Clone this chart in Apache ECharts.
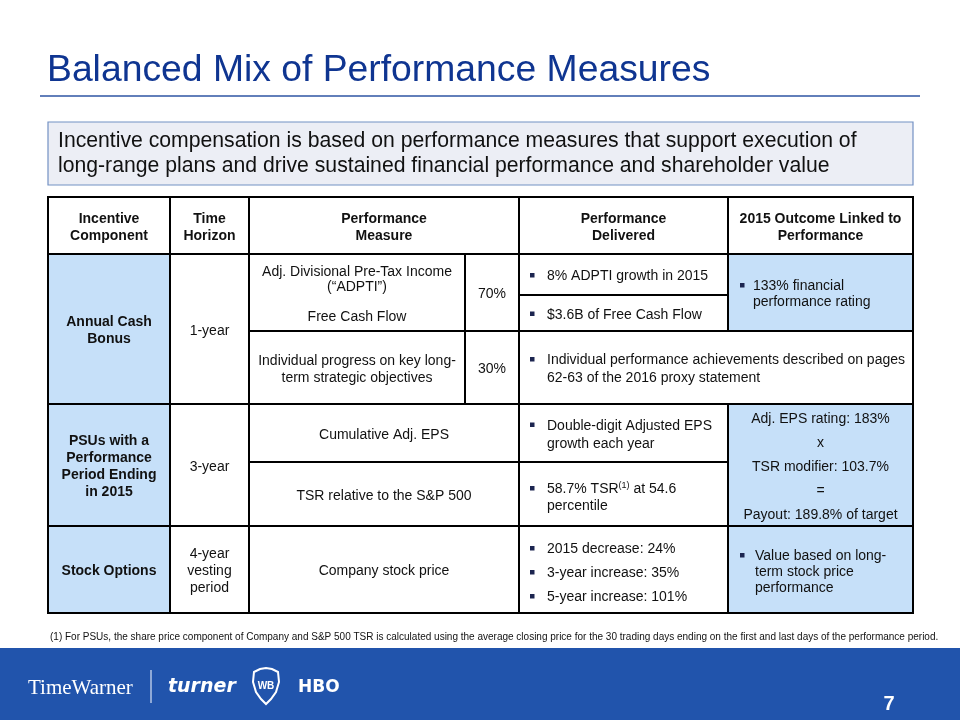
<!DOCTYPE html>
<html><head><meta charset="utf-8">
<script src="https://cdn.jsdelivr.net/npm/echarts@6/dist/echarts.min.js"></script>
<style>html,body{margin:0;padding:0;background:#fff}#c{width:960px;height:720px}</style>
</head><body><div id="c"></div>
<script>
// ---------- content ----------
const title = "Balanced Mix of Performance Measures";
const calloutLines = [
  "Incentive compensation is based on performance measures that support execution of",
  "long-range plans and drive sustained financial performance and shareholder value"
];
const headers = ["Incentive\nComponent", "Time\nHorizon", "Performance\nMeasure", "Performance\nDelivered", "2015 Outcome Linked to\nPerformance"];
const components = ["Annual Cash\nBonus", "PSUs with a\nPerformance\nPeriod Ending\nin 2015", "Stock Options"];
const horizons = ["1-year", "3-year", "4-year\nvesting\nperiod"];
const measures = [
  "Adj. Divisional Pre-Tax Income\n(\u201CADPTI\u201D)\n\nFree Cash Flow",
  "Individual progress on key long-\nterm strategic objectives",
  "Cumulative Adj. EPS",
  "TSR relative to the S&P 500",
  "Company stock price"
];
const weights = ["70%", "30%"];
const delivered = [
  ["8% ADPTI growth in 2015"],
  ["$3.6B of Free Cash Flow"],
  ["Individual performance achievements described on pages\n62-63 of the 2016 proxy statement"],
  ["Double-digit Adjusted EPS\ngrowth each year"],
  ["58.7% TSR{sup|(1)} at 54.6\npercentile"],
  ["2015 decrease: 24%", "3-year increase: 35%", "5-year increase: 101%"]
];
const outcomes = [
  ["133% financial\nperformance rating"],
  "Adj. EPS rating: 183%\nx\nTSR modifier: 103.7%\n=\nPayout: 189.8% of target",
  ["Value based on long-\nterm stock price\nperformance"]
];
const footnote = "(1) For PSUs, the share price component of Company and S&P 500 TSR is calculated using the average closing price for the 30 trading days ending on the first and last days of the performance period.";
const pageNumber = "7";

// ---------- layout (table units) ----------
const colEdges = [0, 122, 201, 417, 471, 680, 865];
const rowEdges = [0, 57, 98, 134, 207, 265, 329, 416];
const BLUE = '#C6E0F9';
const FONT = '"Liberation Sans", Arial, Helvetica, sans-serif';

const cells = [
  {c:[0,1], r:[0,1], kind:'head', text:headers[0]},
  {c:[1,2], r:[0,1], kind:'head', text:headers[1]},
  {c:[2,4], r:[0,1], kind:'head', text:headers[2]},
  {c:[4,5], r:[0,1], kind:'head', text:headers[3]},
  {c:[5,6], r:[0,1], kind:'head', text:headers[4]},
  {c:[0,1], r:[1,4], kind:'head', fill:BLUE, text:components[0]},
  {c:[1,2], r:[1,4], kind:'plain', text:horizons[0]},
  {c:[2,3], r:[1,3], kind:'plain', text:measures[0], lh:15},
  {c:[3,4], r:[1,3], kind:'plain', text:weights[0]},
  {c:[4,5], r:[1,2], kind:'bullets', items:delivered[0], lh:17, bx:11, tx:28},
  {c:[4,5], r:[2,3], kind:'bullets', items:delivered[1], lh:17, bx:11, tx:28},
  {c:[5,6], r:[1,3], kind:'bullets', fill:BLUE, items:outcomes[0], lh:16, bx:12, tx:25},
  {c:[2,3], r:[3,4], kind:'plain', text:measures[1], lh:17},
  {c:[3,4], r:[3,4], kind:'plain', text:weights[1]},
  {c:[4,6], r:[3,4], kind:'bullets', items:delivered[2], lh:18, bx:11, tx:28},
  {c:[0,1], r:[4,6], kind:'head', fill:BLUE, text:components[1]},
  {c:[1,2], r:[4,6], kind:'plain', text:horizons[1]},
  {c:[2,4], r:[4,5], kind:'plain', text:measures[2]},
  {c:[2,4], r:[5,6], kind:'plain', text:measures[3]},
  {c:[4,5], r:[4,5], kind:'bullets', items:delivered[3], lh:18, bx:11, tx:28},
  {c:[4,5], r:[5,6], kind:'bullets', items:delivered[4], lh:17, bx:11, tx:28, dy:2},
  {c:[5,6], r:[4,6], kind:'plain', fill:BLUE, text:outcomes[1], lh:24},
  {c:[0,1], r:[6,7], kind:'head', fill:BLUE, text:components[2]},
  {c:[1,2], r:[6,7], kind:'plain', text:horizons[2], lh:17},
  {c:[2,4], r:[6,7], kind:'plain', text:measures[4]},
  {c:[4,5], r:[6,7], kind:'bullets', items:delivered[5], lh:24, bx:11, tx:28, dy:2},
  {c:[5,6], r:[6,7], kind:'bullets', fill:BLUE, items:outcomes[2], lh:16, bx:12, tx:27, dy:1}
];

const cellData = cells.map(c => [colEdges[c.c[0]], colEdges[c.c[1]], rowEdges[c.r[0]], rowEdges[c.r[1]]]);

const rich = {
  n: {fontSize: 14, fontFamily: FONT, color: '#111', lineHeight: 17},
  sup: {fontSize: 9, fontFamily: FONT, color: '#111', lineHeight: 17, padding: [0, 0, 8, 0]}
};

function renderItem(params, api) {
  const cell = cells[params.dataIndex];
  const p0 = api.coord([api.value(0), api.value(2)]);
  const p1 = api.coord([api.value(1), api.value(3)]);
  const x = p0[0], y = p0[1], w = p1[0] - p0[0], h = p1[1] - p0[1];
  const cx = x + w / 2, cy = y + h / 2 + 2 + (cell.dy || 0);
  const children = [{
    type: 'rect', shape: {x, y, width: w, height: h},
    style: {fill: cell.fill || '#fff', stroke: '#000', lineWidth: 2}
  }];
  if (cell.kind === 'head' || cell.kind === 'plain') {
    const head = cell.kind === 'head';
    children.push({
      type: 'text', x: cx, y: cy,
      style: {text: cell.text, fontFamily: FONT, fontSize: 14,
        fontWeight: head ? 'bold' : 'normal',
        fill: '#111', align: 'center', verticalAlign: 'middle', lineHeight: cell.lh || 17}
    });
  } else {
    const lh = cell.lh;
    let total = 0;
    cell.items.forEach(it => total += it.split('\n').length);
    let ly = cy - total * lh / 2;
    cell.items.forEach(it => {
      const n = it.split('\n').length;
      children.push({type: 'rect', shape: {x: x + cell.bx, y: ly + lh / 2 - 3.5, width: 4.5, height: 4.5},
        style: {fill: '#1C2550'}});
      const hasRich = it.indexOf('{sup|') >= 0;
      const txt = hasRich ? it.split('\n').map(l => {
        if (l.indexOf('{sup|') >= 0) return l.replace(/^([^{]*)\{sup\|([^}]*)\}(.*)$/, '{n|$1}{sup|$2}{n|$3}');
        return '{n|' + l + '}';
      }).join('\n') : it;
      const st = {text: txt, fontFamily: FONT, fontSize: 14, fill: '#111',
          align: 'left', verticalAlign: 'top', lineHeight: lh};
      if (hasRich) st.rich = rich;
      children.push({type: 'text', x: x + cell.tx, y: ly, style: st});
      ly += n * lh;
    });
  }
  return {type: 'group', children};
}

const chart = echarts.init(document.getElementById('c'), null, {renderer: 'canvas'});
chart.setOption({
  animation: false,
  backgroundColor: '#fff',
  grid: {left: 48, top: 197, width: 865, height: 416},
  xAxis: {type: 'value', min: 0, max: 865, show: false},
  yAxis: {type: 'value', min: 0, max: 416, inverse: true, show: false},
  series: [{
    type: 'custom', coordinateSystem: 'cartesian2d',
    renderItem, data: cellData, silent: true, clip: false
  }],
  graphic: [
    {type: 'text', x: 47, y: 71, style: {text: title, fontFamily: FONT, fontSize: 37.3, fill: '#0F3591', verticalAlign: 'middle'}},
    {type: 'line', shape: {x1: 40, y1: 96, x2: 920, y2: 96}, style: {stroke: '#2E55A3', lineWidth: 1.5}},
    {type: 'rect', shape: {x: 48, y: 122, width: 865, height: 63}, style: {fill: '#ECEEF5', stroke: '#7391C4', lineWidth: 1.2}},
    {type: 'text', x: 58, y: 141, style: {text: calloutLines[0], fontFamily: FONT, fontSize: 21.2, fill: '#111', verticalAlign: 'middle'}},
    {type: 'text', x: 58, y: 166, style: {text: calloutLines[1], fontFamily: FONT, fontSize: 21.2, fill: '#111', verticalAlign: 'middle'}},
    {type: 'text', x: 50, y: 637, style: {text: footnote, fontFamily: FONT, fontSize: 10, fill: '#111', verticalAlign: 'middle'}},
    {type: 'rect', shape: {x: 0, y: 648, width: 960, height: 72}, style: {fill: '#2154AC'}},
    {type: 'text', x: 28, y: 688, style: {text: 'TimeWarner', fontFamily: '"Liberation Serif", "DejaVu Serif", serif', fontSize: 21, fill: '#fff', verticalAlign: 'middle'}},
    {type: 'line', shape: {x1: 151, y1: 670, x2: 151, y2: 703}, style: {stroke: '#D8E2F4', lineWidth: 1.2}},
    {type: 'text', x: 168, y: 687, style: {text: 'turner', fontFamily: '"DejaVu Sans", sans-serif', fontWeight: 'bold', fontStyle: 'italic', fontSize: 19, fill: '#fff', verticalAlign: 'middle'}},
    {type: 'polygon', shape: {points: [[254,672],[260,669],[266,668],[272,669],[278,672],[279,682],[276,692],[271,699],[266,704],[261,699],[256,692],[253,682]]}, style: {fill: 'none', stroke: '#fff', lineWidth: 2}},
    {type: 'text', x: 266, y: 686, style: {text: 'WB', fontFamily: FONT, fontWeight: 'bold', fontSize: 10, fill: '#fff', align: 'center', verticalAlign: 'middle'}},
    {type: 'text', x: 298, y: 688, style: {text: 'HBO', fontFamily: '"DejaVu Sans", sans-serif', fontWeight: 'bold', fontSize: 17, fill: '#fff', verticalAlign: 'middle'}},
    {type: 'text', x: 889, y: 704, style: {text: pageNumber, fontFamily: FONT, fontWeight: 'bold', fontSize: 20, fill: '#fff', align: 'center', verticalAlign: 'middle'}}
  ]
});
</script></body></html>
